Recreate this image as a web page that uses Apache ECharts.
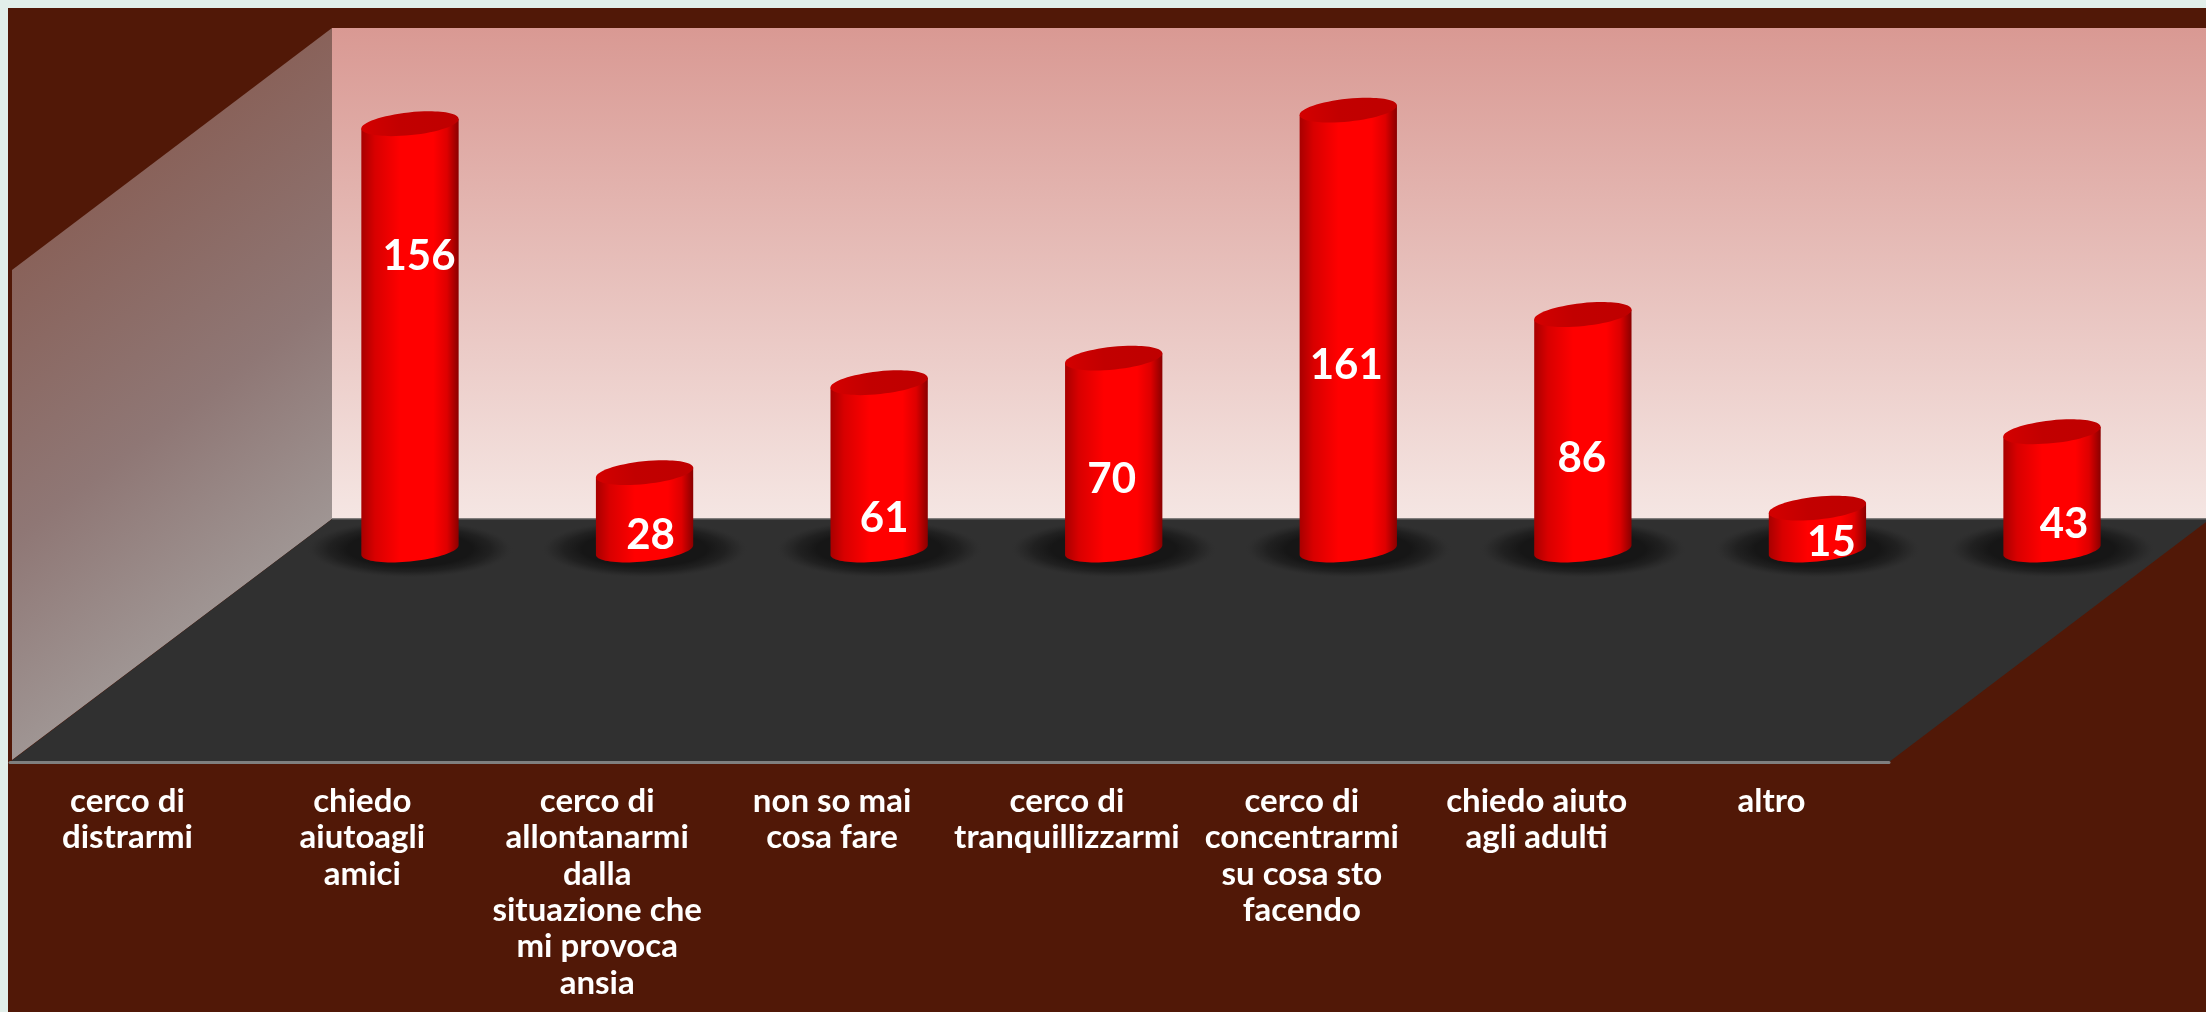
<!DOCTYPE html>
<html>
<head>
<meta charset="utf-8">
<title>Strategie contro l'ansia</title>
<style>
  html, body { margin: 0; padding: 0; background: #e2efea; }
  #chart { width: 2206px; height: 1012px; }
</style>
<script src="https://cdn.jsdelivr.net/npm/echarts@6/dist/echarts.min.js"></script>
</head>
<body>
<div id="chart"></div>
<script>
// Risposte raccolte per ciascuna strategia
const categories = [
  'cerco di\ndistrarmi',
  'chiedo\naiutoagli\namici',
  'cerco di\nallontanarmi\ndalla\nsituazione che\nmi provoca\nansia',
  'non so mai\ncosa fare',
  'cerco di\ntranquillizzarmi',
  'cerco di\nconcentrarmi\nsu cosa sto\nfacendo',
  'chiedo aiuto\nagli adulti',
  'altro'
];
const values = [156, 28, 61, 70, 161, 86, 15, 43];

// Where each number sits on its cylinder: sideways from the axis, down from the cap
const labelShiftX = [9, 6, 5, -2, -2, -1, 14, 12];
const labelDrop = [133, 63, 136, 121, 255, 144, 34, 93];

const FONT = 'Lato, "Open Sans", sans-serif';
const BROWN = '#511807';
const TILT = 6 * Math.PI / 180;   // caps lean up towards the right

// Oblique projection: the floor's front edge and the plane the cylinders stand on
const FRONT = { left: 10, right: 1889, y: 762 };
const BACK_X = 332, BACK_Y = 519, WALL_TOP = 28;
const PLANE = { left: 292.7, width: 1876.6, base: 549, perUnit: 2.726, max: 180 };

function ellipsePoint(cx, cy, a, b, t) {
  const c = Math.cos(t), s = Math.sin(t);
  return [
    cx + a * c * Math.cos(TILT) + b * s * Math.sin(TILT),
    cy - a * c * Math.sin(TILT) + b * s * Math.cos(TILT)
  ];
}

function renderCylinder(params, api) {
  const i = api.value(0);
  const top = api.coord([i, api.value(1)]);
  const base = api.coord([i, 0]);
  const cx = base[0];
  const a = api.size([1, 0])[0] * 0.2085;
  const b = 11.4;
  const bottomY = base[1] + 1;
  const t0 = Math.atan2(b * Math.sin(TILT), a * Math.cos(TILT));

  // Body outline: front half of the bottom ellipse, closed under the cap
  const pts = [];
  for (let k = 0; k <= 40; k++) {
    pts.push(ellipsePoint(cx, bottomY, a, b, t0 + Math.PI * k / 40));
  }
  pts.push(ellipsePoint(cx, top[1], a, b, t0 + Math.PI));
  pts.push(ellipsePoint(cx, top[1], a, b, t0));

  return {
    type: 'group',
    children: [
      {
        type: 'circle',
        x: cx, y: 549, scaleX: 104, scaleY: 29,
        shape: { cx: 0, cy: 0, r: 1 },
        style: {
          fill: {
            type: 'radial', x: 0.5, y: 0.5, r: 0.5,
            colorStops: [
              { offset: 0, color: 'rgba(22,22,22,1)' },
              { offset: 0.6, color: 'rgba(22,22,22,1)' },
              { offset: 0.78, color: 'rgba(26,26,26,0.7)' },
              { offset: 0.9, color: 'rgba(32,32,32,0.3)' },
              { offset: 1, color: 'rgba(48,48,48,0)' }
            ]
          }
        }
      },
      {
        type: 'polygon',
        shape: { points: pts },
        style: {
          fill: {
            type: 'linear', x: 0, y: 0, x2: 1, y2: 0,
            colorStops: [
              { offset: 0, color: '#a80000' },
              { offset: 0.14, color: '#d80000' },
              { offset: 0.4, color: '#ff0000' },
              { offset: 0.74, color: '#ff0000' },
              { offset: 0.88, color: '#de0000' },
              { offset: 1, color: '#8a0000' }
            ]
          }
        }
      },
      {
        type: 'ellipse',
        x: cx, y: top[1], rotation: TILT,
        shape: { cx: 0, cy: 0, rx: a, ry: b },
        style: {
          fill: {
            type: 'linear', x: 0, y: 0, x2: 1, y2: 0,
            colorStops: [
              { offset: 0, color: '#d40000' },
              { offset: 0.4, color: '#c20000' },
              { offset: 1, color: '#bf0000' }
            ]
          }
        }
      },
      {
        type: 'text',
        x: cx + labelShiftX[i],
        y: top[1] + labelDrop[i],
        style: {
          text: String(api.value(1)),
          fill: '#ffffff',
          font: 'bold 42px ' + FONT,
          align: 'center',
          verticalAlign: 'middle'
        }
      }
    ]
  };
}

const chart = echarts.init(document.getElementById('chart'));

chart.setOption({
  animation: false,
  backgroundColor: '#e2efea',
  graphic: [
    // Panel behind the chart
    { type: 'rect', z: 0, shape: { x: 8, y: 8, width: 2198, height: 1004 }, style: { fill: BROWN } },
    // Back wall
    {
      type: 'rect', z: 0,
      shape: { x: BACK_X, y: WALL_TOP, width: 2206 - BACK_X, height: BACK_Y - WALL_TOP },
      style: {
        fill: {
          type: 'linear', x: 0, y: 0, x2: 0, y2: 1,
          colorStops: [
            { offset: 0, color: '#d99993' },
            { offset: 1, color: '#f5e6e3' }
          ]
        }
      }
    },
    // Side wall
    {
      type: 'polygon', z: 0,
      shape: { points: [[12, 270], [BACK_X, WALL_TOP], [BACK_X, BACK_Y], [12, 760]] },
      style: {
        fill: {
          type: 'linear', x: 172, y: 149, x2: 408, y2: 462, global: true,
          colorStops: [
            { offset: 0, color: '#89625a' },
            { offset: 0.55, color: '#8f7775' },
            { offset: 1, color: '#9f9593' }
          ]
        }
      }
    },
    // Floor
    {
      type: 'polygon', z: 0,
      shape: { points: [[BACK_X, BACK_Y], [2206, BACK_Y], [2206, 522], [FRONT.right, FRONT.y], [FRONT.left, FRONT.y]] },
      style: { fill: '#303030' }
    },
    {
      type: 'line', z: 1,
      shape: { x1: BACK_X, y1: BACK_Y, x2: 2206, y2: BACK_Y },
      style: { stroke: '#5a5a5a', lineWidth: 1.5 }
    }
  ],
  grid: [
    // Front edge of the floor, carrying the category labels
    { left: FRONT.left, width: FRONT.right - FRONT.left, top: FRONT.y - 200, height: 200 },
    // Plane of the cylinders, further back along the floor
    {
      left: PLANE.left, width: PLANE.width,
      top: PLANE.base - PLANE.max * PLANE.perUnit,
      height: PLANE.max * PLANE.perUnit
    }
  ],
  xAxis: [
    {
      type: 'category', gridIndex: 0, data: categories, z: 5,
      axisTick: { show: false },
      axisLine: { lineStyle: { color: '#7f7f7f', width: 3 } },
      axisLabel: {
        interval: 0, margin: 21, color: '#ffffff',
        fontFamily: FONT, fontWeight: 'bold', fontSize: 33, lineHeight: 36.4,
        align: 'center', verticalAlign: 'top'
      }
    },
    { type: 'category', gridIndex: 1, data: categories, show: false }
  ],
  yAxis: [
    { type: 'value', gridIndex: 0, show: false, min: 0, max: 1 },
    { type: 'value', gridIndex: 1, show: false, min: 0, max: PLANE.max }
  ],
  series: [
    {
      type: 'custom',
      xAxisIndex: 1, yAxisIndex: 1,
      renderItem: renderCylinder,
      encode: { x: 0, y: 1 },
      data: values.map((v, i) => [i, v])
    }
  ]
});
</script>
</body>
</html>
